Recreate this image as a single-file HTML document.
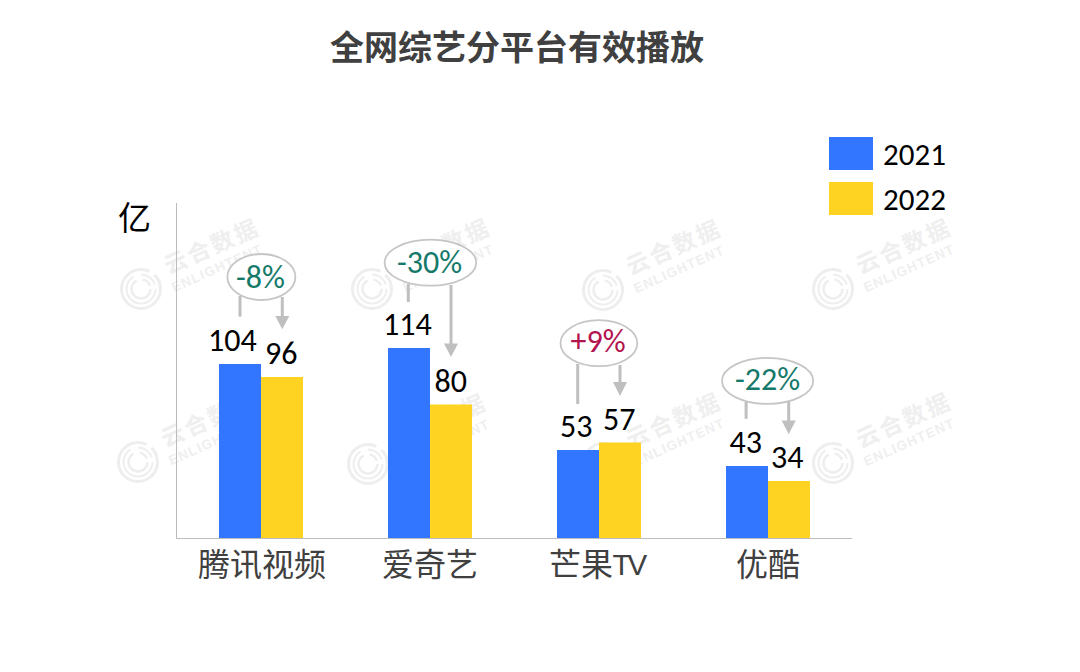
<!DOCTYPE html>
<html lang="zh-CN">
<head>
<meta charset="utf-8">
<title>全网综艺分平台有效播放</title>
<style>
  html, body { margin: 0; padding: 0; }
  body { width: 1080px; height: 672px; position: relative; overflow: hidden; background: #ffffff; }
  .t { position: absolute; white-space: nowrap; line-height: 1; }
  .num { font-family: "Carlito", "Liberation Sans", sans-serif; font-size: 32px; color: #000; }
  .title { font-family: "Liberation Sans", "Noto Sans CJK SC", sans-serif; font-weight: bold; font-size: 34px; color: #404040; }
  .cat { font-family: "Liberation Sans", "Noto Sans CJK SC", sans-serif; font-size: 32px; color: #404040; }
  .pct { font-family: "Carlito", "Liberation Sans", sans-serif; font-size: 32px; }
  .neg { color: #15796a; }
  .pos { color: #b3134f; }
  svg { position: absolute; left: 0; top: 0; }
</style>
</head>
<body>
<svg width="1080" height="672" viewBox="0 0 1080 672">
  <!-- watermark -->
  <g transform="translate(141,289)" fill="none" stroke="#eeeeee">
      <circle cx="0" cy="0" r="19.5" stroke-width="3" stroke-dasharray="100 6 16 0"/>
      <circle cx="0" cy="0" r="14.5" stroke-width="2" stroke-dasharray="60 8 18 5"/>
      <circle cx="0" cy="0" r="9.5" stroke-width="2.5" stroke-dasharray="40 6 10 4"/>
      <g transform="rotate(-24)" stroke="none" fill="#efefef">
        <text x="31" y="-2" font-family="'Liberation Sans', 'Noto Sans CJK SC', sans-serif" font-weight="bold" font-size="23" letter-spacing="2.5">云合数据</text>
        <text x="29" y="16.5" font-family="'Liberation Sans', sans-serif" font-weight="bold" font-size="13.5" letter-spacing="1.2">ENLIGHTENT</text>
      </g>
    </g>
  <g transform="translate(372,289)" fill="none" stroke="#eeeeee">
      <circle cx="0" cy="0" r="19.5" stroke-width="3" stroke-dasharray="100 6 16 0"/>
      <circle cx="0" cy="0" r="14.5" stroke-width="2" stroke-dasharray="60 8 18 5"/>
      <circle cx="0" cy="0" r="9.5" stroke-width="2.5" stroke-dasharray="40 6 10 4"/>
      <g transform="rotate(-24)" stroke="none" fill="#efefef">
        <text x="31" y="-2" font-family="'Liberation Sans', 'Noto Sans CJK SC', sans-serif" font-weight="bold" font-size="23" letter-spacing="2.5">云合数据</text>
        <text x="29" y="16.5" font-family="'Liberation Sans', sans-serif" font-weight="bold" font-size="13.5" letter-spacing="1.2">ENLIGHTENT</text>
      </g>
    </g>
  <g transform="translate(603,290)" fill="none" stroke="#eeeeee">
      <circle cx="0" cy="0" r="19.5" stroke-width="3" stroke-dasharray="100 6 16 0"/>
      <circle cx="0" cy="0" r="14.5" stroke-width="2" stroke-dasharray="60 8 18 5"/>
      <circle cx="0" cy="0" r="9.5" stroke-width="2.5" stroke-dasharray="40 6 10 4"/>
      <g transform="rotate(-24)" stroke="none" fill="#efefef">
        <text x="31" y="-2" font-family="'Liberation Sans', 'Noto Sans CJK SC', sans-serif" font-weight="bold" font-size="23" letter-spacing="2.5">云合数据</text>
        <text x="29" y="16.5" font-family="'Liberation Sans', sans-serif" font-weight="bold" font-size="13.5" letter-spacing="1.2">ENLIGHTENT</text>
      </g>
    </g>
  <g transform="translate(833,289)" fill="none" stroke="#eeeeee">
      <circle cx="0" cy="0" r="19.5" stroke-width="3" stroke-dasharray="100 6 16 0"/>
      <circle cx="0" cy="0" r="14.5" stroke-width="2" stroke-dasharray="60 8 18 5"/>
      <circle cx="0" cy="0" r="9.5" stroke-width="2.5" stroke-dasharray="40 6 10 4"/>
      <g transform="rotate(-24)" stroke="none" fill="#efefef">
        <text x="31" y="-2" font-family="'Liberation Sans', 'Noto Sans CJK SC', sans-serif" font-weight="bold" font-size="23" letter-spacing="2.5">云合数据</text>
        <text x="29" y="16.5" font-family="'Liberation Sans', sans-serif" font-weight="bold" font-size="13.5" letter-spacing="1.2">ENLIGHTENT</text>
      </g>
    </g>
  <g transform="translate(138,462)" fill="none" stroke="#eeeeee">
      <circle cx="0" cy="0" r="19.5" stroke-width="3" stroke-dasharray="100 6 16 0"/>
      <circle cx="0" cy="0" r="14.5" stroke-width="2" stroke-dasharray="60 8 18 5"/>
      <circle cx="0" cy="0" r="9.5" stroke-width="2.5" stroke-dasharray="40 6 10 4"/>
      <g transform="rotate(-24)" stroke="none" fill="#efefef">
        <text x="31" y="-2" font-family="'Liberation Sans', 'Noto Sans CJK SC', sans-serif" font-weight="bold" font-size="23" letter-spacing="2.5">云合数据</text>
        <text x="29" y="16.5" font-family="'Liberation Sans', sans-serif" font-weight="bold" font-size="13.5" letter-spacing="1.2">ENLIGHTENT</text>
      </g>
    </g>
  <g transform="translate(368,464)" fill="none" stroke="#eeeeee">
      <circle cx="0" cy="0" r="19.5" stroke-width="3" stroke-dasharray="100 6 16 0"/>
      <circle cx="0" cy="0" r="14.5" stroke-width="2" stroke-dasharray="60 8 18 5"/>
      <circle cx="0" cy="0" r="9.5" stroke-width="2.5" stroke-dasharray="40 6 10 4"/>
      <g transform="rotate(-24)" stroke="none" fill="#efefef">
        <text x="31" y="-2" font-family="'Liberation Sans', 'Noto Sans CJK SC', sans-serif" font-weight="bold" font-size="23" letter-spacing="2.5">云合数据</text>
        <text x="29" y="16.5" font-family="'Liberation Sans', sans-serif" font-weight="bold" font-size="13.5" letter-spacing="1.2">ENLIGHTENT</text>
      </g>
    </g>
  <g transform="translate(603,463)" fill="none" stroke="#eeeeee">
      <circle cx="0" cy="0" r="19.5" stroke-width="3" stroke-dasharray="100 6 16 0"/>
      <circle cx="0" cy="0" r="14.5" stroke-width="2" stroke-dasharray="60 8 18 5"/>
      <circle cx="0" cy="0" r="9.5" stroke-width="2.5" stroke-dasharray="40 6 10 4"/>
      <g transform="rotate(-24)" stroke="none" fill="#efefef">
        <text x="31" y="-2" font-family="'Liberation Sans', 'Noto Sans CJK SC', sans-serif" font-weight="bold" font-size="23" letter-spacing="2.5">云合数据</text>
        <text x="29" y="16.5" font-family="'Liberation Sans', sans-serif" font-weight="bold" font-size="13.5" letter-spacing="1.2">ENLIGHTENT</text>
      </g>
    </g>
  <g transform="translate(833,463)" fill="none" stroke="#eeeeee">
      <circle cx="0" cy="0" r="19.5" stroke-width="3" stroke-dasharray="100 6 16 0"/>
      <circle cx="0" cy="0" r="14.5" stroke-width="2" stroke-dasharray="60 8 18 5"/>
      <circle cx="0" cy="0" r="9.5" stroke-width="2.5" stroke-dasharray="40 6 10 4"/>
      <g transform="rotate(-24)" stroke="none" fill="#efefef">
        <text x="31" y="-2" font-family="'Liberation Sans', 'Noto Sans CJK SC', sans-serif" font-weight="bold" font-size="23" letter-spacing="2.5">云合数据</text>
        <text x="29" y="16.5" font-family="'Liberation Sans', sans-serif" font-weight="bold" font-size="13.5" letter-spacing="1.2">ENLIGHTENT</text>
      </g>
    </g>
  <!-- axes -->
  <line x1="176.5" y1="203" x2="176.5" y2="538.5" stroke="#bcbcbc" stroke-width="1"/>
  <line x1="176" y1="538.5" x2="852" y2="538.5" stroke="#bcbcbc" stroke-width="1"/>
  <!-- bars -->
  <g fill="#3275fe">
    <rect x="219" y="364" width="42" height="174"/>
    <rect x="388" y="348" width="42" height="190"/>
    <rect x="557" y="450" width="42" height="88"/>
    <rect x="726" y="466" width="42" height="72"/>
  </g>
  <g fill="#ffd322">
    <rect x="261" y="377" width="42" height="161"/>
    <rect x="430" y="404.5" width="42" height="133.5"/>
    <rect x="599" y="442.5" width="42" height="95.5"/>
    <rect x="768" y="481" width="42" height="57"/>
  </g>
  <!-- legend -->
  <rect x="829" y="137" width="44" height="33" fill="#3275fe"/>
  <rect x="829" y="182" width="44" height="33" fill="#ffd322"/>
  <!-- callouts -->
  <g fill="#ffffff" stroke="#c6c6c6" stroke-width="1.8">
    <ellipse cx="261.4" cy="277" rx="34" ry="23"/>
    <ellipse cx="430.4" cy="262.7" rx="45.8" ry="23"/>
    <ellipse cx="598.9" cy="343.2" rx="38.4" ry="23"/>
    <ellipse cx="767.6" cy="380.9" rx="45.6" ry="23"/>
  </g>
  <g stroke="#bfbfbf" stroke-width="3" fill="none">
    <line x1="240" y1="296" x2="240" y2="316.6"/>
    <line x1="282.3" y1="297" x2="282.3" y2="318"/>
    <line x1="408.3" y1="284" x2="408.3" y2="302"/>
    <line x1="451" y1="285" x2="451" y2="345"/>
    <line x1="577.7" y1="364" x2="577.7" y2="404"/>
    <line x1="620" y1="365" x2="620" y2="384"/>
    <line x1="746.1" y1="402" x2="746.1" y2="418.8"/>
    <line x1="788.7" y1="402" x2="788.7" y2="422"/>
  </g>
  <g fill="#bfbfbf">
    <polygon points="275.3,316 289.3,316 282.3,329.3"/>
    <polygon points="444,343.5 458,343.5 451,357"/>
    <polygon points="613,382 627,382 620,396"/>
    <polygon points="781.7,420.4 795.7,420.4 788.7,434.3"/>
  </g>
</svg>

<div class="t title" style="left:330px;top:31px;">全网综艺分平台有效播放</div>

<div class="t cat" style="left:118px;top:202px;color:#000;font-size:33px;">亿</div>

<!-- legend text -->
<div class="t num" style="left:883px;top:139px;font-size:31px;">2021</div>
<div class="t num" style="left:883px;top:184px;font-size:31px;">2022</div>

<!-- data labels -->
<div class="t num" style="left:208px;top:325px;">104</div>
<div class="t num" style="left:265px;top:338px;">96</div>
<div class="t num" style="left:383px;top:309px;">114</div>
<div class="t num" style="left:434.5px;top:366px;">80</div>
<div class="t num" style="left:560px;top:411px;">53</div>
<div class="t num" style="left:603px;top:404px;">57</div>
<div class="t num" style="left:729.5px;top:427px;">43</div>
<div class="t num" style="left:771px;top:442px;">34</div>

<!-- percent labels -->
<div class="t pct neg" style="left:236px;top:261.5px;">-8%</div>
<div class="t pct neg" style="left:397px;top:247px;">-30%</div>
<div class="t pct pos" style="left:570.5px;top:326px;">+9%</div>
<div class="t pct neg" style="left:735px;top:364px;">-22%</div>

<!-- categories -->
<div class="t cat" style="left:198px;top:549px;">腾讯视频</div>
<div class="t cat" style="left:382px;top:549px;">爱奇艺</div>
<div class="t cat" style="left:549px;top:549px;">芒果<span style="font-size:29.5px;margin-left:-0.5px;letter-spacing:-3px;position:relative;top:-1.5px">TV</span></div>
<div class="t cat" style="left:736px;top:549px;">优酷</div>
</body>
</html>
